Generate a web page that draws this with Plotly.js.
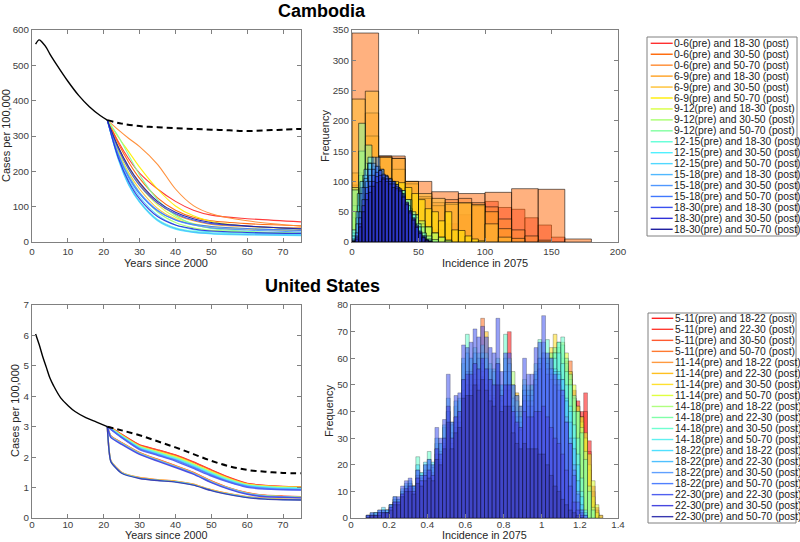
<!DOCTYPE html>
<html><head><meta charset="utf-8">
<script src="https://cdn.plot.ly/plotly-3.0.1.min.js"></script>
<style>body{margin:0;background:#fff}#chart{width:800px;height:542px}</style>
</head><body><div id="chart"></div>
<script>
// ---------------- Cambodia ----------------
const kh_labels = ['0-6(pre) and 18-30 (post)','0-6(pre) and 30-50 (post)','0-6(pre) and 50-70 (post)','6-9(pre) and 18-30 (post)','6-9(pre) and 30-50 (post)','6-9(pre) and 50-70 (post)','9-12(pre) and 18-30 (post)','9-12(pre) and 30-50 (post)','9-12(pre) and 50-70 (post)','12-15(pre) and 18-30 (post)','12-15(pre) and 30-50 (post)','12-15(pre) and 50-70 (post)','15-18(pre) and 18-30 (post)','15-18(pre) and 30-50 (post)','15-18(pre) and 50-70 (post)','18-30(pre) and 18-30 (post)','18-30(pre) and 30-50 (post)','18-30(pre) and 50-70 (post)'];
const kh_colors = ['#ff3030','#ff6400','#ff8a30','#ffa020','#ffc030','#ffee00','#d8ff40','#a8ff70','#80ffa0','#60ffd8','#50f0ff','#50d8ff','#50b8ff','#5098ff','#4078ff','#3a50f0','#3030d8','#2020a0'];
const kh_histYears = [1,2,3,4,5,7,10,13,16,19,21];
const kh_histCases = [560,572,563,550,532,500,455,415,383,358,345];
const kh_baseYears = [21,25,30,35,40,45,50,55,60,65,70,75];
const kh_baseCases = [345,335,328,325,322,320,318,316,314,316,318,320];
const kh_lineYears = [21,24,27,30,35,40,45,50,60,75];
const kh_lineCases = [
 [345,285,235,195,150,115,90,76,66,57],
 [345,280,225,180,125,90,70,60,52,46],
 [345,318,293,270,220,150,103,80,60,45],
 [345,270,210,165,110,78,60,50,44,40],
 [345,260,195,150,95,65,48,40,36,33],
 [345,298,255,212,150,102,74,58,45,37],
 [345,265,205,160,105,70,52,44,38,32],
 [345,255,190,140,85,55,40,33,29,26],
 [345,300,245,190,120,75,50,38,30,26],
 [345,240,165,115,64,40,30,26,23,21],
 [345,235,160,112,60,36,27,23,20,18],
 [345,245,175,128,76,48,35,29,25,22],
 [345,238,162,114,62,38,28,24,21,19],
 [345,250,185,140,90,62,48,40,34,28],
 [345,248,182,136,88,62,50,44,38,33],
 [345,265,205,160,110,80,62,52,45,38],
 [345,240,170,122,72,48,37,31,27,24],
 [345,270,212,168,115,84,66,55,45,37]
];
const kh_binStart = [0,0,0,0,0,0,0,0,0,0,0,0,0,0,0,0,0,0];
const kh_binWidth = [10,20,10,10,10,5,5,5,5,4,4,3,3,3,2.5,2.5,2.5,2.5];
const kh_counts = [
 [2,4,6,8,10,15,20,30,45,60,67,57,54,40,28,8],
 [345,142,100,83,80,82,88,87,5],
 [94,213,142,138,100,75,65,70,72,65,58,38,20,10,3],
 [114,175,140,120,96,72,60,62,64,60,50,22,6],
 [236,249,140,138,100,80,72,65,65,62,30,8],
 [40,90,110,120,110,105,100,98,90,80,70,55,50,35,50,20,19,10,5,2],
 [60,110,120,118,110,100,90,72,56,45,30,25,15,8,3],
 [90,150,130,110,100,95,85,65,55,40,35,25,15,8,3],
 [86,196,160,120,105,100,95,85,70,45,25,10,4],
 [15,60,100,130,115,110,105,100,90,85,70,50,30,15,5],
 [20,80,110,140,120,110,100,95,90,80,60,45,25,10,3],
 [10,40,90,110,130,125,115,110,105,100,95,85,75,60,45,30,15,8,3],
 [5,50,100,120,130,140,125,120,110,105,100,90,80,65,50,30,18,8],
 [3,30,80,105,120,130,140,120,110,100,95,85,70,55,40,25,12,5],
 [2,15,50,90,100,110,120,125,118,110,105,100,98,90,85,75,60,50,38,25,15,8,3,1],
 [1,10,40,70,90,100,110,115,118,112,108,104,100,95,88,78,66,52,40,28,18,10,4,1],
 [0,8,30,60,80,92,100,108,110,106,104,100,96,92,86,76,64,50,38,26,16,8,3,1],
 [0,5,25,50,70,82,92,98,100,104,100,96,90,88,84,74,62,48,36,24,14,7,2,1]
];

// ---------------- United States ----------------
const us_labels = ['5-11(pre) and 18-22 (post)','5-11(pre) and 22-30 (post)','5-11(pre) and 30-50 (post)','5-11(pre) and 50-70 (post)','11-14(pre) and 18-22 (post)','11-14(pre) and 22-30 (post)','11-14(pre) and 30-50 (post)','11-14(pre) and 50-70 (post)','14-18(pre) and 18-22 (post)','14-18(pre) and 22-30 (post)','14-18(pre) and 30-50 (post)','14-18(pre) and 50-70 (post)','18-22(pre) and 18-22 (post)','18-22(pre) and 22-30 (post)','18-22(pre) and 30-50 (post)','18-22(pre) and 50-70 (post)','22-30(pre) and 22-30 (post)','22-30(pre) and 30-50 (post)','22-30(pre) and 50-70 (post)'];
const us_colors = ['#ff2020','#ff3a30','#ff5a30','#ff7a30','#ff9a40','#ffc020','#ffe030','#e0ff40','#b0ff80','#80ffa8','#70ffd0','#60f0f0','#50e0ff','#50c0ff','#60a0ff','#5080ff','#5060f0','#4848e0','#3838b0'];
const us_histYears = [1,2,3,4,5,6,8,10,12,15,18,21];
const us_histCases = [6.05,5.7,5.3,4.95,4.6,4.35,3.95,3.7,3.5,3.3,3.15,3.0];
const us_baseYears = [21,25,30,35,40,45,50,55,60,65,70,75];
const us_baseCases = [3.0,2.88,2.72,2.52,2.32,2.1,1.88,1.7,1.58,1.52,1.48,1.47];
const us_lineYears = [21,22,25,30,35,40,45,50,55,60,65,70,75];
const us_lineCases = [
 [3.0,2.97,2.75,2.40,2.24,2.07,1.84,1.58,1.33,1.14,1.07,1.04,1.03],
 [3.0,2.70,2.48,2.15,1.93,1.72,1.50,1.22,0.99,0.83,0.75,0.72,0.70],
 [3.0,2.96,2.74,2.39,2.23,2.06,1.83,1.57,1.32,1.13,1.06,1.03,1.02],
 [3.0,1.88,1.50,1.33,1.26,1.21,1.11,0.93,0.80,0.70,0.65,0.62,0.61],
 [3.0,2.69,2.47,2.14,1.92,1.71,1.49,1.21,0.98,0.82,0.74,0.71,0.69],
 [3.0,1.87,1.49,1.32,1.25,1.20,1.10,0.92,0.79,0.69,0.64,0.62,0.61],
 [3.0,2.95,2.72,2.36,2.19,2.02,1.79,1.53,1.29,1.11,1.05,1.02,1.01],
 [3.0,2.95,2.71,2.35,2.17,2.00,1.77,1.51,1.27,1.10,1.04,1.01,1.00],
 [3.0,2.94,2.70,2.34,2.16,1.98,1.75,1.49,1.26,1.09,1.03,1.00,0.99],
 [3.0,2.67,2.45,2.12,1.90,1.69,1.47,1.19,0.97,0.81,0.73,0.70,0.68],
 [3.0,2.94,2.69,2.33,2.15,1.97,1.74,1.48,1.25,1.08,1.02,0.99,0.99],
 [3.0,2.93,2.68,2.31,2.13,1.95,1.72,1.46,1.23,1.07,1.01,0.98,0.98],
 [3.0,1.86,1.48,1.31,1.24,1.19,1.09,0.91,0.78,0.68,0.63,0.61,0.60],
 [3.0,2.92,2.66,2.29,2.10,1.92,1.69,1.43,1.20,1.05,0.99,0.96,0.95],
 [3.0,2.66,2.44,2.11,1.89,1.68,1.46,1.18,0.96,0.80,0.72,0.69,0.67],
 [3.0,2.91,2.65,2.27,2.08,1.90,1.66,1.41,1.19,1.03,0.97,0.94,0.93],
 [3.0,2.91,2.64,2.25,2.06,1.87,1.63,1.38,1.17,1.01,0.95,0.93,0.92],
 [3.0,2.64,2.42,2.09,1.87,1.66,1.44,1.16,0.94,0.78,0.70,0.68,0.66],
 [3.0,1.85,1.47,1.30,1.23,1.18,1.08,0.90,0.77,0.67,0.62,0.60,0.59]
];
const us_binWidth = 0.02;
const us_binStart = [0.80,0.88,0.92,0.64,0.96,0.60,0.98,0.88,0.84,0.88,0.08,0.68,0.08,0.08,0.08,0.08,0.08,0.08,0.08];
const us_counts = [
 [50,70,40,38,40,45,46,48,50,52,50,52,54,55,56,56,55,52,48,44,40,47,29,12,4,1],
 [40,42,44,46,48,50,52,53,55,56,57,58,57,55,45,42,38,40,25,10,3],
 [44,46,48,50,52,54,56,58,58,57,59,46,43,36,38,20,8,2],
 [50,55,75,50,48,46,48,42,45,48,40,38,38,42,44,46,48,50,52,54,55,56,57,58,56,59,44,40,35,30,18,6,2],
 [46,48,50,52,54,56,58,57,56,54,40,38,32,22,9,3],
 [55,56,58,60,62,70,55,52,54,48,50,52,50,47,40,42,44,46,50,52,55,58,62,60,58,55,50,40,36,30,24,12,4,1],
 [56,58,60,64,69,60,58,52,50,44,40,36,30,20,8,2],
 [40,42,45,48,50,52,55,58,60,62,64,66,62,55,50,42,38,32,24,14,5,1],
 [55,46,42,44,48,50,52,54,56,58,60,62,64,60,58,52,45,40,34,25,12,4],
 [38,40,44,48,52,56,58,60,62,64,66,65,60,54,46,40,32,22,10,3],
 [1,1,2,2,3,3,5,7,7,10,12,13,12,23,17,20,25,20,28,28,34,40,36,42,44,58,69,60,64,62,65,62,58,56,60,50,69,60,50,44,40,52,50,50,58,67,62,67,60,62,66,68,55,50,40,30,15],
 [50,52,50,48,52,46,55,50,42,40,38,48,46,46,52,56,60,58,56,60,62,58,50,42,35,24,10,3],
 [1,2,2,3,4,3,5,8,7,11,13,14,12,20,17,21,22,21,30,28,35,45,35,44,45,60,62,60,62,60,62,60,56,55,58,50,60,58,45,40,38,50,48,48,55,60,58,60,56,56,55,52,45,40,30,20,8,2],
 [1,1,2,2,3,3,5,7,7,10,12,13,12,18,16,18,20,19,26,25,30,40,32,38,40,52,55,55,58,56,58,56,52,50,55,48,55,55,42,38,36,48,46,46,54,60,66,58,56,55,54,52,44,36,26,14,5,1],
 [0,1,2,2,2,3,4,6,6,9,11,12,11,16,15,17,18,17,24,22,28,35,30,36,38,48,52,50,54,52,55,52,48,46,50,44,50,50,40,36,34,46,44,44,52,58,62,56,54,52,50,48,38,30,20,10,3,1],
 [0,1,1,2,2,2,4,6,6,9,10,11,10,15,14,16,17,16,22,21,27,34,28,34,36,46,50,48,52,50,53,50,46,45,48,42,48,48,38,35,33,44,42,42,50,56,60,54,52,50,48,46,36,28,18,9,3,1],
 [1,2,1,3,3,2,5,8,8,12,14,15,12,18,16,20,22,20,34,30,37,54,36,46,47,65,64,66,71,68,72,68,64,62,75,55,62,62,50,46,42,60,54,54,64,66,76,62,60,54,52,48,36,28,16,6,2],
 [1,1,1,2,2,2,4,6,6,9,11,12,10,15,14,16,18,16,26,24,30,42,30,38,40,52,54,54,58,56,60,56,52,50,58,46,50,50,40,36,34,40,38,38,40,40,42,38,34,30,28,24,18,12,6,3,1],
 [0,1,1,1,2,2,3,5,5,8,10,10,9,13,12,14,15,14,22,20,26,36,26,32,34,45,46,46,50,48,52,48,44,42,50,40,42,42,32,28,26,28,26,26,26,24,24,20,16,12,10,7,5,3,2,1,0]
];

// ---------------- helpers ----------------
function rgba(hex, a){const n=parseInt(hex.slice(1),16);return 'rgba('+(n>>16&255)+','+(n>>8&255)+','+(n&255)+','+a+')';}
const W=800,H=542;
const px=x=>x/W, py=y=>1-y/H;
const FONT='Liberation Sans, Arial, Helvetica, sans-serif';

const traces=[];
kh_lineCases.forEach((ys,i)=>traces.push({type:'scatter',mode:'lines',x:kh_lineYears,y:ys,xaxis:'x',yaxis:'y',line:{color:kh_colors[i],width:1.1,shape:'spline',smoothing:0.9},opacity:0.95,hoverinfo:'skip',showlegend:false}));
traces.push({type:'scatter',mode:'lines',x:kh_histYears,y:kh_histCases,xaxis:'x',yaxis:'y',line:{color:'#000',width:1.4,shape:'spline'},showlegend:false,hoverinfo:'skip'});
traces.push({type:'scatter',mode:'lines',x:kh_baseYears,y:kh_baseCases,xaxis:'x',yaxis:'y',line:{color:'#000',width:2,dash:'6px,4px',shape:'spline'},showlegend:false,hoverinfo:'skip'});
kh_counts.forEach((c,i)=>traces.push({type:'bar',x:c.map((_,k)=>kh_binStart[i]+k*kh_binWidth[i]),y:c,width:kh_binWidth[i],offset:0,xaxis:'x2',yaxis:'y2',marker:{color:rgba(kh_colors[i],0.5),line:{color:'rgba(0,0,0,0.55)',width:1}},showlegend:false,hoverinfo:'skip'}));
us_lineCases.forEach((ys,i)=>traces.push({type:'scatter',mode:'lines',x:us_lineYears,y:ys,xaxis:'x3',yaxis:'y3',line:{color:us_colors[i],width:1.4,shape:'spline',smoothing:0.5},opacity:0.95,hoverinfo:'skip',showlegend:false}));
traces.push({type:'scatter',mode:'lines',x:us_histYears,y:us_histCases,xaxis:'x3',yaxis:'y3',line:{color:'#000',width:1.4,shape:'spline'},showlegend:false,hoverinfo:'skip'});
traces.push({type:'scatter',mode:'lines',x:us_baseYears,y:us_baseCases,xaxis:'x3',yaxis:'y3',line:{color:'#000',width:2,dash:'6px,4px',shape:'spline'},showlegend:false,hoverinfo:'skip'});
us_counts.forEach((c,i)=>traces.push({type:'bar',x:c.map((_,k)=>us_binStart[i]+k*us_binWidth),y:c,width:us_binWidth,offset:0,xaxis:'x4',yaxis:'y4',marker:{color:rgba(us_colors[i],0.6),line:{color:'rgba(0,0,0,0.4)',width:0.6}},showlegend:false,hoverinfo:'skip'}));

function ax(domain,range,dtick,anchor,extra){
 return Object.assign({domain:domain,range:range,dtick:dtick,tick0:0,ticks:'inside',ticklen:4,tickcolor:'#808080',showline:true,linecolor:'#808080',linewidth:1,mirror:'ticks',showgrid:false,zeroline:false,
  tickfont:{family:FONT,size:9.8,color:'#404040'},anchor:anchor,fixedrange:true},extra||{});
}
const topY=[py(242),py(30)], botY=[py(518),py(305)];
const layout={
 width:W,height:H,margin:{l:0,r:0,t:0,b:0},paper_bgcolor:'#fff',plot_bgcolor:'#fff',barmode:'overlay',showlegend:false,
 font:{family:FONT},
 xaxis:ax([px(32),px(301)],[0,75],10,'y'),
 yaxis:ax(topY,[0,600],100,'x'),
 xaxis2:ax([px(352),px(618)],[0,200],50,'y2'),
 yaxis2:ax(topY,[0,350],50,'x2'),
 xaxis3:ax([px(32),px(301)],[0,75],10,'y3',{ticklabelstandoff:-3}),
 yaxis3:ax(botY,[0,7],1,'x3'),
 xaxis4:ax([px(351),px(618)],[0,1.4],0.2,'y4',{ticklabelstandoff:-3}),
 yaxis4:ax(botY,[0,80],10,'x4'),
 shapes:[],annotations:[]
};
function note(text,x,y,opt){layout.annotations.push(Object.assign({xref:'paper',yref:'paper',x:px(x),y:py(y),text:text,showarrow:false,xanchor:'center',yanchor:'middle',font:{family:FONT,size:11,color:'#262626'}},opt||{}));}
note('<b>Cambodia</b>',322,11,{font:{family:FONT,size:18,color:'#000'}});
note('<b>United States</b>',322,286,{font:{family:FONT,size:18,color:'#000'}});
note('Years since 2000',166,263);
note('Years since 2000',166,542,{yanchor:'bottom',borderpad:0,font:{family:FONT,size:10.8,color:'#262626'}});
note('Incidence in 2075',485,263);
note('Incidence in 2075',485,542,{yanchor:'bottom',borderpad:0,font:{family:FONT,size:10.8,color:'#262626'}});
note('Cases per 100,000',6,136,{textangle:-90});
note('Cases per 100,000',15,411,{textangle:-90});
note('Frequency',325,136,{textangle:-90});
note('Frequency',329,411,{textangle:-90});

function legend(labels,colors,box,y0,dy,lx0,lx1,tx){
 layout.shapes.push({type:'rect',xref:'paper',yref:'paper',x0:px(box[0]),x1:px(box[1]),y0:py(box[2]),y1:py(box[3]),line:{color:'#808080',width:1},fillcolor:'#fff'});
 labels.forEach((t,i)=>{
  const yy=y0+i*dy;
  layout.shapes.push({type:'line',xref:'paper',yref:'paper',x0:px(lx0),x1:px(lx1),y0:py(yy),y1:py(yy),line:{color:colors[i],width:1.4}});
  note(t,tx,yy,{xanchor:'left',font:{family:FONT,size:10.3,color:'#1a1a1a'},borderpad:0});
 });
}
legend(kh_labels,kh_colors,[647,797,37,236],43.3,10.94,650.7,672.7,673);
legend(us_labels,us_colors,[648,796,313,523],318.3,11.02,651.7,673.3,674);

Plotly.newPlot('chart',traces,layout,{staticPlot:true,displayModeBar:false});
</script></body></html>
